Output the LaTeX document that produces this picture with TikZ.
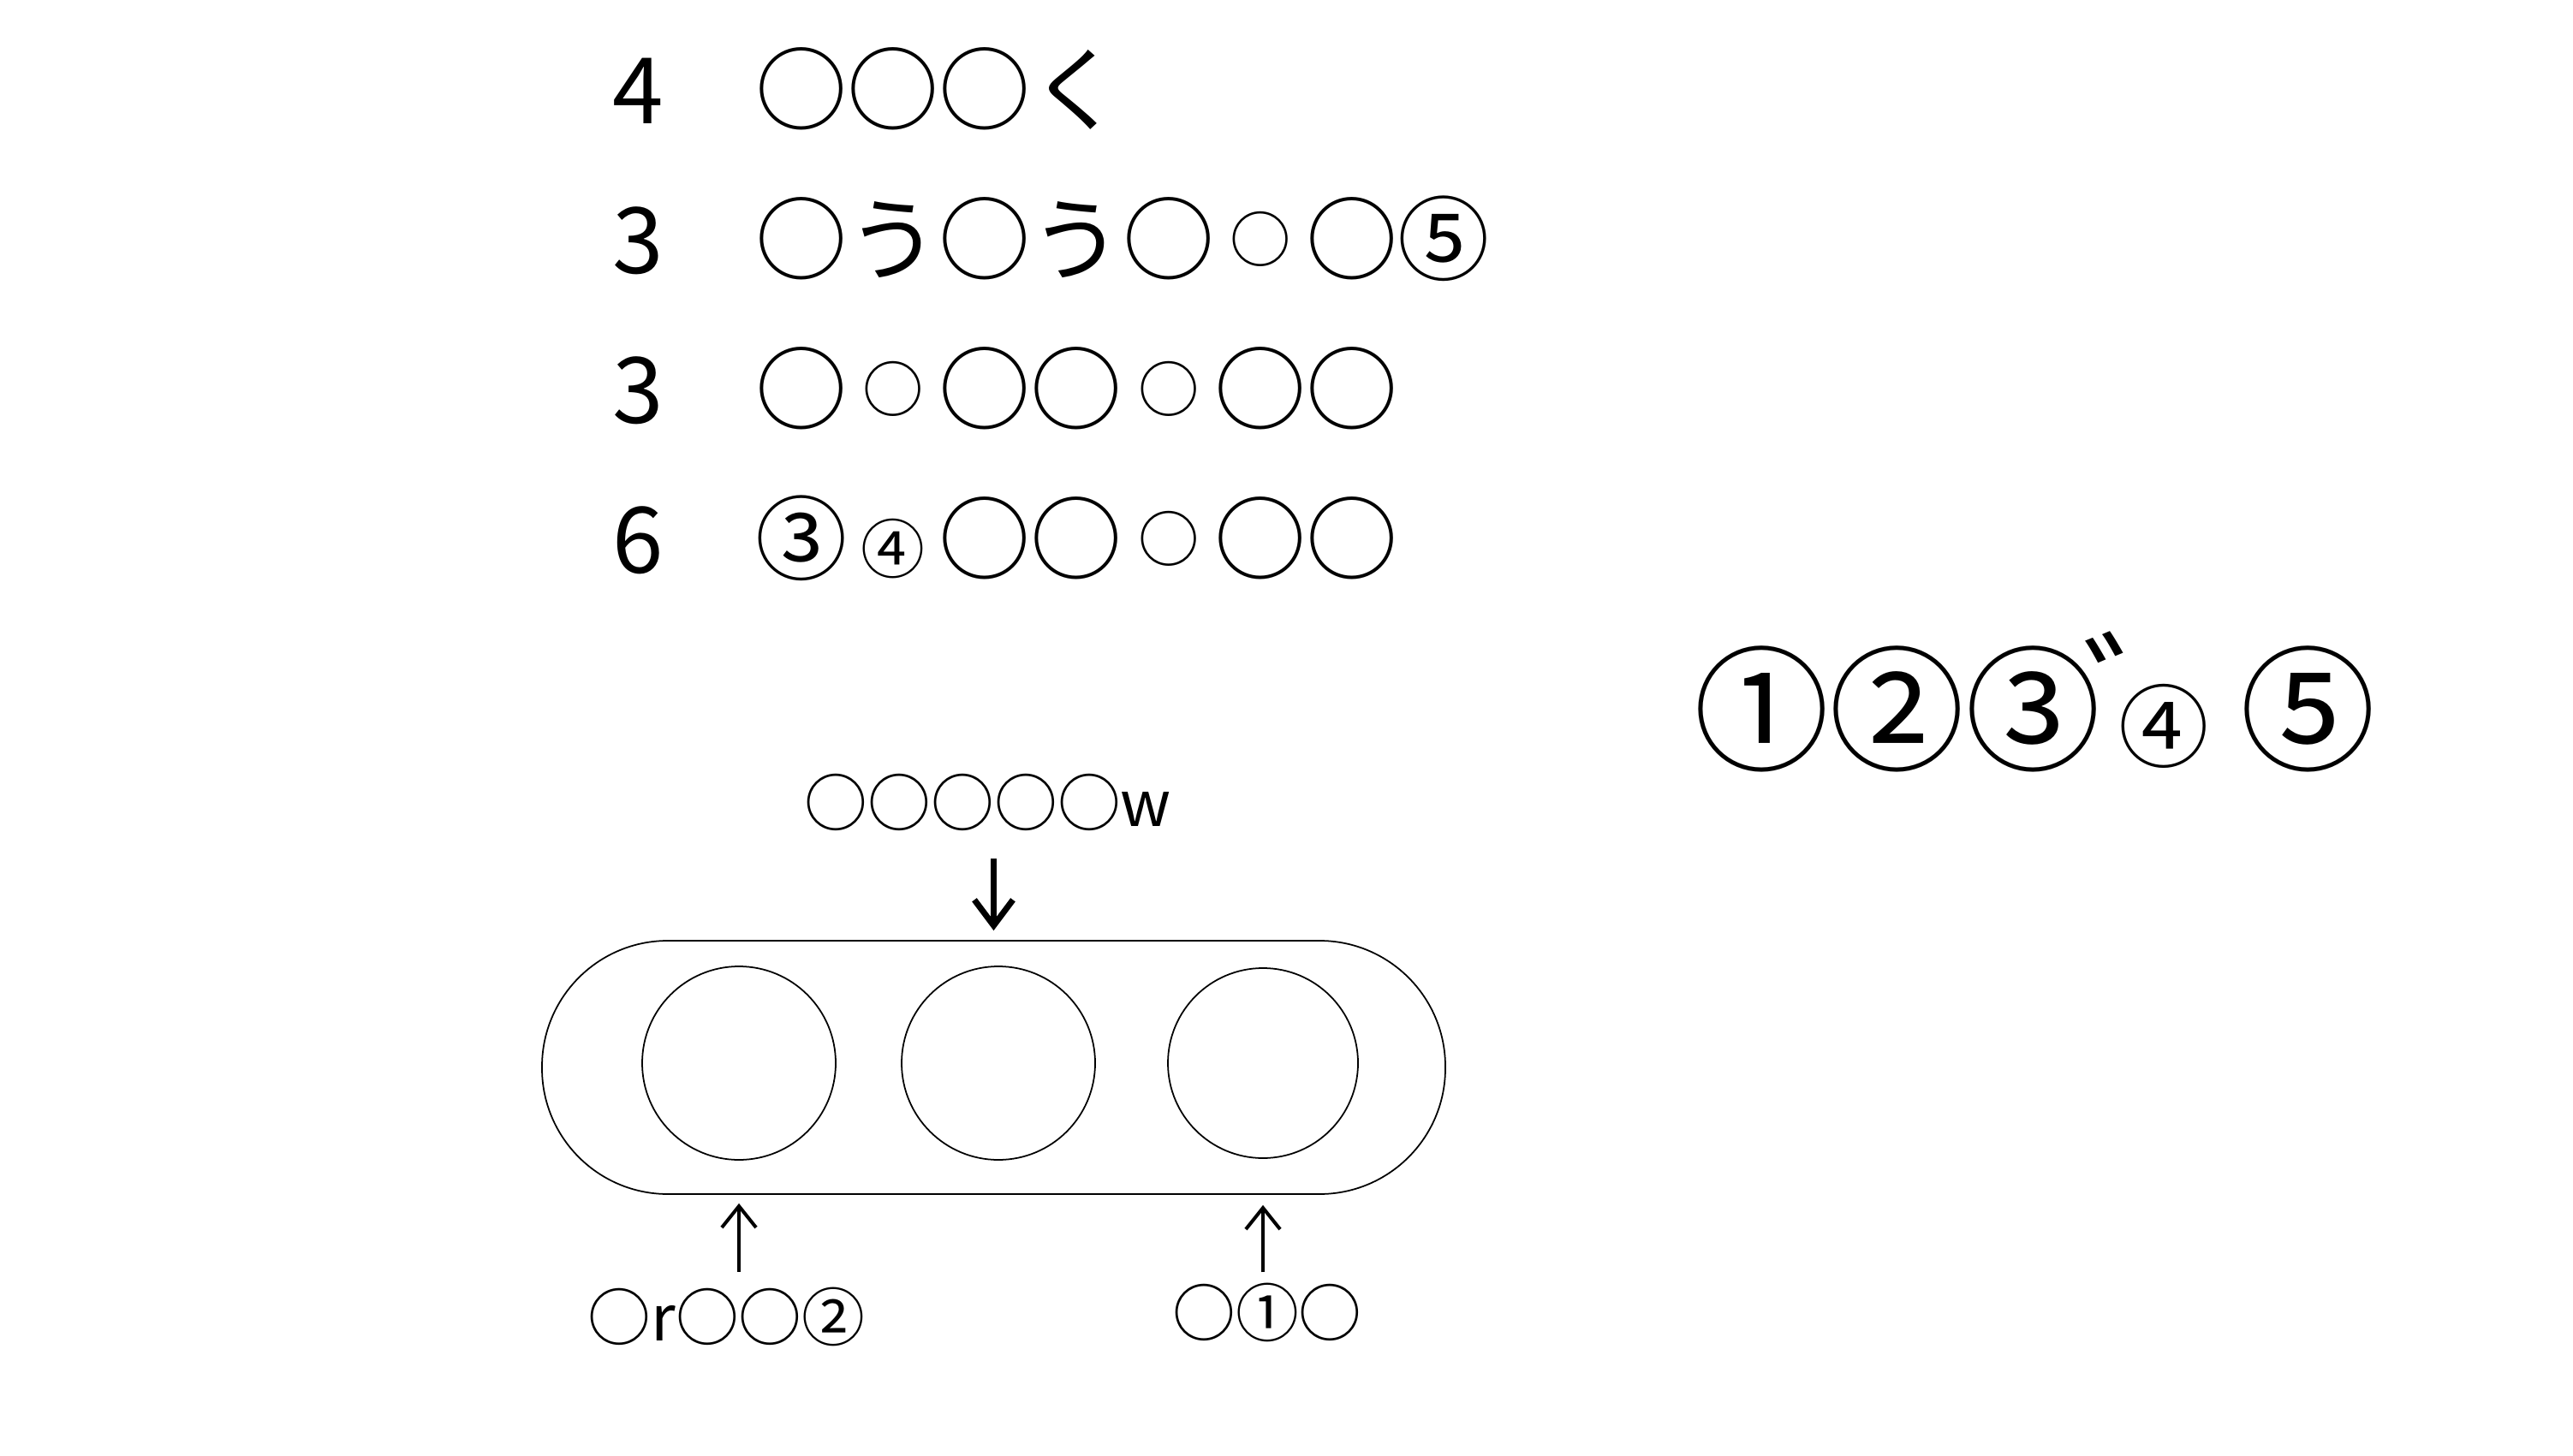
\documentclass[tikz,border=0pt]{standalone}
\usepackage{fontspec}
\newfontfamily\jpfont{Noto Sans CJK JP}
\usetikzlibrary{arrows.meta, calc}
\newcommand\smallmaru{\makebox[1em]{\raisebox{3.7pt}{\fontsize{20.3}{20.3}\selectfont ○}}}
\newcommand\smallfour{\makebox[1em]{\fontsize{21.3}{21.3}\selectfont ④}}
\tikzset{
  rowtext/.style={font=\jpfont\fontsize{30.5}{30.5}\selectfont, anchor=base west, inner sep=0pt},
  tagtext/.style={font=\jpfont\fontsize{21}{21}\selectfont, inner sep=0pt},
  bigtext/.style={font=\jpfont\fontsize{45}{45}\selectfont, inner sep=0pt},
  holder/.style={draw, line width=0.5pt, rounded corners=1.47cm,
    minimum width=10.55cm, minimum height=2.96cm, inner sep=0pt},
  slot/.style={draw, circle, line width=0.5pt, minimum size=2.26cm, inner sep=0pt},
  downarrow/.style={-{Straight Barb[length=0.3cm, width=0.45cm]}, line width=0.07cm},
  uparrow/.style={-{Straight Barb[length=0.25cm, width=0.4cm]}, line width=0.04cm},
}
\begin{document}
\begin{tikzpicture}
  \useasboundingbox (0,0) rectangle (30.05,-17.01);

  % rows
  \node[rowtext] (rowa) at (7.15,-1.45) {4　○○○く};
  \node[rowtext] (rowb) at (7.15,-3.20) {3　○う○う○\smallmaru○⑤};
  \node[rowtext] (rowc) at (7.15,-4.95) {3　○\smallmaru○○\smallmaru○○};
  \node[rowtext] (rowd) at (7.15,-6.70) {6　③\smallfour○○\smallmaru○○};

  % right group
  \node[bigtext] (bigabc) at (22.16,-8.28) {①②③};
  \node[bigtext] (dakuten) at (25.13,-8.04) {゛};
  \node[bigtext, font=\jpfont\fontsize{30}{30}\selectfont] (bigfour) at (25.275,-8.48) {④};
  \node[bigtext] (bigfive) at (26.955,-8.28) {⑤};

  % holder with slots
  \node[holder] (frame) at (11.605,-12.47) {};
  \node[slot] (slota) at (8.63,-12.42) {};
  \node[slot] (slotb) at (11.66,-12.42) {};
  \node[slot, minimum size=2.22cm] (slotc) at (14.75,-12.42) {};

  % labels
  \node[tagtext] (toptag) at (11.54,-9.375) {○○○○○w};
  \node[tagtext] (lefttag) at (8.485,-15.38) {○r○○②};
  \node[tagtext] (righttag) at (14.80,-15.335) {○①○};

  % arrows
  \draw[downarrow, shorten <=0.32cm, shorten >=0.11cm]
    (toptag.south -| frame.north) -- (frame.north);
  \draw[uparrow, shorten <=0.17cm, shorten >=0.1cm]
    (lefttag.north -| slota.south) -- (frame.south -| slota.south);
  \draw[uparrow, shorten <=0.12cm, shorten >=0.12cm]
    (righttag.north -| slotc.south) -- (frame.south -| slotc.south);
\end{tikzpicture}
\end{document}
